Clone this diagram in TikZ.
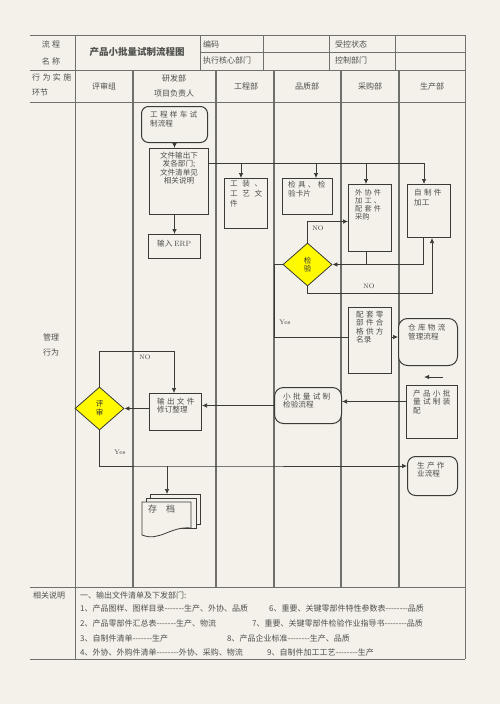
\documentclass[tikz,border=0pt]{standalone}
\usepackage{fontspec}
\newfontfamily\cjk[Ligatures=TeXOff]{Noto Sans CJK SC}
\newfontfamily\cjkw[Ligatures=TeXOff,LetterSpace=30]{Noto Sans CJK SC}
\newfontfamily\cjkx[Ligatures=TeXOff,LetterSpace=60]{Noto Sans CJK SC}
\usepackage{tikz}
\usetikzlibrary{%
  positioning,%
  shapes.geometric,%
  arrows.meta%
}
\definecolor{paper}{RGB}{243,241,233}
\definecolor{rule}{RGB}{112,112,106}
\definecolor{ink}{RGB}{58,58,54}
\definecolor{txtc}{RGB}{80,80,76}
\definecolor{warn}{RGB}{255,250,0}

\begin{document}
\begin{tikzpicture}[x=1pt,y=-1pt,
  grid/.style={draw=rule, line width=0.9pt},
  lane/.style={draw=rule, line width=1.2pt},
  box/.style={draw=ink, line width=1pt, fill=paper, inner sep=0pt, anchor=north west},
  rbox/.style={box, rounded corners=7pt},
  page/.style={draw=ink, line width=0.8pt, fill=paper},
  chkbox/.style={diamond, draw=ink, line width=0.8pt, fill=warn, inner sep=0pt,
    minimum width=49, minimum height=43, align=center, text=ink,
    font=\cjk\fontsize{7.5}{8.5}\selectfont},
  link/.style={draw=ink, line width=0.7pt},
  arr/.style={link, -{Latex[length=5pt,width=4.5pt]}},
  txt/.style={text=txtc, inner sep=0pt, align=left, font=\cjk\fontsize{7.6}{8.6}\selectfont},
  head/.style={text=txtc, inner sep=0pt, font=\cjk\fontsize{8}{10}\selectfont},
  note/.style={text=txtc, inner sep=0pt, anchor=west, font=\cjk\fontsize{8}{10}\selectfont},
  lbl/.style={text=ink, inner sep=0pt, font=\fontsize{6.5}{7}\selectfont}
]
\fill[paper] (0,0) rectangle (500,704);
\useasboundingbox (0,0) rectangle (500,704);

% table frame
\draw[grid] (30,35) -- (465,35);
\draw[grid] (200,52) -- (465,52);
\draw[grid] (30,70) -- (465,70);
\draw[grid] (30,102) -- (465,102);
\draw[grid] (30,587) -- (465,587);
\draw[grid] (30,659) -- (465,659);
\draw[grid] (75,35) -- (75,659);
\draw[grid] (465,35) -- (465,659);
\draw[grid] (200,35) -- (200,70);
\draw[grid] (263,35) -- (263,70);
\draw[grid] (329,35) -- (329,70);
\draw[grid] (395,35) -- (395,70);
% swim lanes
\draw[lane] (133,70) -- (133,587);
\draw[lane] (216,70) -- (216,587);
\draw[lane] (274,70) -- (274,587);
\draw[lane] (341,70) -- (341,587);
\draw[lane] (399,70) -- (399,587);

% header texts
\node[head] (nm1) at (51,44) {\cjkw 流程};
\node[head] (nm2) at (51,61) {\cjkw 名称};
\node[head, font=\cjk\bfseries\fontsize{9.5}{10}\selectfont] (ttl) at (137,52) {产品小批量试制流程图};
\node[head, anchor=west] (code) at (203,44) {编码};
\node[head, anchor=west] (core) at (203,60.5) {执行核心部门};
\node[head, anchor=west] (ctrl) at (335,44) {受控状态};
\node[head, anchor=west] (dept) at (335,60.5) {控制部门};
\node[head, anchor=west] (act1) at (32,77) {\cjkw 行为实施};
\node[head, anchor=west] (act2) at (32,92) {环节};
\node[head] (h1) at (104,86) {评审组};
\node[head] (h2) at (174,78) {研发部};
\node[head] (h3) at (174,93) {项目负责人};
\node[head] (h4) at (246,86) {工程部};
\node[head] (h5) at (307,86) {品质部};
\node[head] (h6) at (370,86) {采购部};
\node[head] (h7) at (432,86) {生产部};
\node[head] (mg1) at (51,337) {管理};
\node[head] (mg2) at (51,352) {行为};

% boxes
\node[rbox, minimum width=66, minimum height=36] (eng) at (141,106) {};
\node[txt, below right=5pt and 9pt of eng.north west] (engT) {{\cjkw 工程样车试}\\制流程};
\node[box, minimum width=59, minimum height=66] (out) at (149,148) {};
\node[txt, align=center, below=3.5pt of out.north] (outT) {文件输出下\\发各部门;\\文件清单见\\相关说明};
\node[box, minimum width=52, minimum height=24] (erp) at (148,234) {};
\node[txt, below right=5.5pt and 9pt of erp.north west] (erpT) {输入 \rmfamily ERP};
\node[box, minimum width=43, minimum height=50] (tool) at (224,178) {};
\node[txt, font=\cjk\fontsize{7.6}{10}\selectfont, below right=2pt and 6pt of tool.north west] (toolT) {{\cjkx 工装、}\\{\cjkx 工艺文}\\件};
\node[box, minimum width=50, minimum height=36] (gauge) at (282,178) {};
\node[txt, below right=3pt and 6pt of gauge.north west] (gaugeT) {{\cjkw 检具、检}\\验卡片};
\node[box, minimum width=43, minimum height=67] (outs) at (348,184) {};
\node[txt, font=\cjk\fontsize{7.2}{8}\selectfont, below right=5pt and 7pt of outs.north west] (outsT) {{\cjkw 外协件}\\{\cjkw 加工、}\\{\cjkw 配套件}\\采购};
\node[box, minimum width=43, minimum height=53] (self) at (407,184) {};
\node[txt, font=\cjk\fontsize{7.6}{10}\selectfont, below right=4.5pt and 7pt of self.north west] (selfT) {{\cjkw 自制件}\\加工};
\node[chkbox] (chk) at (307.5,264.5) {检\\验};
\node[box, minimum width=43, minimum height=66] (kit) at (348,307) {};
\node[txt, below right=3.5pt and 8pt of kit.north west] (kitT) {{\cjkw 配套零}\\{\cjkw 部件合}\\{\cjkw 格供方}\\名录};
\node[rbox, rounded corners=9pt, minimum width=59, minimum height=47] (store) at (398,318) {};
\node[txt, below right=6pt and 10pt of store.north west] (storeT) {{\cjkw 仓库物流}\\管理流程};
\node[box, minimum width=51, minimum height=53] (asm) at (406,385) {};
\node[txt, below right=4.5pt and 7pt of asm.north west] (asmT) {{\cjkw 产品小批}\\{\cjkw 量试制装}\\配};
\node[rbox, rounded corners=9pt, minimum width=67, minimum height=36] (insp) at (274,387) {};
\node[txt, below right=5.5pt and 9pt of insp.north west] (inspT) {{\cjkw 小批量试制}\\检验流程};
\node[box, minimum width=52, minimum height=37] (rev) at (149,393) {};
\node[txt, below right=4.5pt and 8pt of rev.north west] (revT) {{\cjkw 输出文件}\\修订整理};
\node[chkbox] (aud) at (99.5,408.5) {评\\审};
\node[rbox, rounded corners=8pt, minimum width=50, minimum height=39] (prod) at (407,456) {};
\node[txt, below right=5.5pt and 10pt of prod.north west] (prodT) {{\cjkw 生产作}\\业流程};

% archive stack
\node[inner sep=0pt, minimum width=58, minimum height=43, anchor=north west] (arch) at (142,494) {};
\filldraw[page] (150,494) rectangle (200,524);
\filldraw[page] (146,498) rectangle (196,528);
\filldraw[page] (142,502) -- (191,502) -- (191,528) .. controls (170,526) and (160,542) .. (142,535) -- cycle;
\node[txt, font=\cjk\fontsize{9}{10}\selectfont, below right=11pt and 6pt of arch.north west] (archT) {存\quad 档};

% distribution
\coordinate (bus) at (424,163);
\coordinate (b1) at (241,163);
\coordinate (b2) at (316,163);
\coordinate (b3) at (366,163);
\draw[arr] (eng.south) -- (eng.south |- out.north);
\draw[arr] (erp.north |- out.south) -- (erp.north);
\draw[link] (out.east |- bus) -- (bus);
\draw[arr] (b1) -- (b1 |- tool.north);
\draw[arr] (b2) -- (b2 |- gauge.north);
\draw[arr] (b3) -- (b3 |- outs.north);
\draw[arr] (bus) -- (bus |- self.north);

% inspection loop
\coordinate (r1) at (423,264.5);
\coordinate (r2) at (432,293);
\coordinate (y1) at (274,337);
\draw[arr] (chk.north) |- ([yshift=-3.5pt]outs.west);
\draw[arr] (r1 |- self.south) -- (r1) -- (chk.east);
\draw[link] (b3 |- outs.south) -- (b3 |- chk.east);
\draw[arr] (chk.south) |- (r2) -- (r2 |- self.south);
\draw[link] (chk.west) -| (y1) -- (y1 -| kit.west);
\draw[arr] (kit.east |- y1) -- (y1 -| store.west);
\node[lbl] (no1) at (318,228) {NO};
\node[lbl] (no2) at (369,286) {NO};
\node[lbl] (yes1) at (285,322) {Yes};

% free arrow
\coordinate (fa) at (443,377);
\coordinate (fb) at (424,377);
\draw[arr, line width=1pt] (fa) -- (fb);

% trial and review
\coordinate (ai) at ([yshift=4pt]insp.east);
\coordinate (n1) at (174,351);
\coordinate (ys) at (167,466);
\draw[arr] (asm.west |- ai) -- (ai);
\draw[arr] (insp.west) -- (insp.west -| rev.east);
\draw[arr] (rev.west |- aud.east) -- (aud.east);
\draw[arr] (aud.north) |- (n1) -- (n1 |- rev.north);
\draw[arr] (aud.south) |- (ys) -- (ys -| prod.west);
\draw[arr] (ys) -- (ys |- arch.north);
\node[lbl] (no3) at (145,357) {NO};
\node[lbl] (yes2) at (120,452) {Yes};

% notes
\node[head, anchor=west] (rel) at (33,595) {相关说明};
\node[note] (l0) at (80,595) {一、输出文件清单及下发部门:};
\node[note] (l1) at (80,608) {1、产品图样、图样目录-------生产、外协、品质};
\node[note] (l6) at (269,608) {6、重要、关键零部件特性参数表--------品质};
\node[note] (l2) at (80,623) {2、产品零部件汇总表-------生产、物流};
\node[note] (l7) at (252,623) {7、重要、关键零部件检验作业指导书--------品质};
\node[note] (l3) at (80,638) {3、自制件清单-------生产};
\node[note] (l8) at (227,638) {8、产品企业标准--------生产、品质};
\node[note] (l4) at (80,652) {4、外协、外购件清单--------外协、采购、物流};
\node[note] (l9) at (267,652) {9、自制件加工工艺--------生产};
\end{tikzpicture}
\end{document}
